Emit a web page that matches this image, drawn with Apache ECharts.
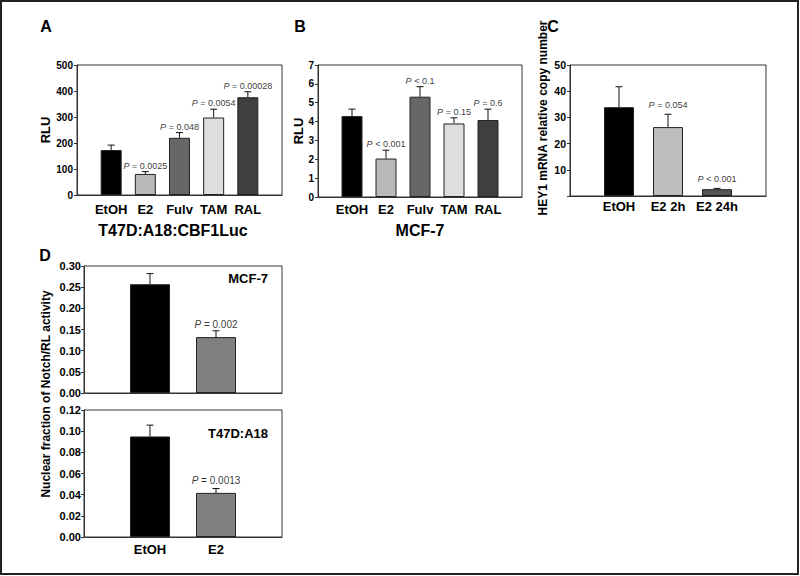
<!DOCTYPE html>
<html><head><meta charset="utf-8">
<script src="https://cdn.jsdelivr.net/npm/echarts@6/dist/echarts.min.js"></script>
<style>html,body{margin:0;padding:0;background:#fff}#c{width:800px;height:576px}</style>
</head><body><div id="c"></div>
<script>
// ---- Data ----
const aCategories = ['EtOH', 'E2', 'Fulv', 'TAM', 'RAL'];
const aValues = [173, 81, 220, 298, 376];
const aErrors = [19, 9, 20, 32, 21];
const aPLabels = ['', 'P = 0.0025', 'P = 0.048', 'P = 0.0054', 'P = 0.00028'];
const aTicks = [0, 100, 200, 300, 400, 500];

const bCategories = ['EtOH', 'E2', 'Fulv', 'TAM', 'RAL'];
const bValues = [4.29, 2.04, 5.32, 3.90, 4.08];
const bErrors = [0.37, 0.44, 0.53, 0.30, 0.58];
const bPLabels = ['', 'P < 0.001', 'P < 0.1', 'P = 0.15', 'P = 0.6'];
const bTicks = [0, 1, 2, 3, 4, 5, 6, 7];

const cCategories = ['EtOH', 'E2 2h', 'E2 24h'];
const cValues = [33.9, 26.3, 2.6];
const cErrors = [7.8, 4.9, 0.3];
const cPLabels = ['', 'P = 0.054', 'P < 0.001'];
const cTicks = [10, 20, 30, 40, 50];

const dCategories = ['EtOH', 'E2'];
const dMcfValues = [0.257, 0.132];
const dMcfErrors = [0.025, 0.015];
const dMcfPLabels = ['', 'P = 0.002'];
const dMcfTicks = [0, 0.05, 0.10, 0.15, 0.20, 0.25, 0.30];
const dT47Values = [0.095, 0.0417];
const dT47Errors = [0.0107, 0.0041];
const dT47PLabels = ['', 'P = 0.0013'];
const dT47Ticks = [0, 0.02, 0.04, 0.06, 0.08, 0.10, 0.12];

// ---- Styles ----
const FONT = '"Liberation Sans", Arial, Helvetica, sans-serif';
const drugColors = ['#000000', '#b9b9b9', '#676767', '#dedede', '#3f3f3f'];
const cColors = ['#000000', '#bdbdbd', '#555555'];
const dColors = ['#000000', '#808080'];
const AX = '#333';

const chart = echarts.init(document.getElementById('c'), null, {renderer: 'svg'});

function padCats(cats) { return [''].concat(cats, [' ']); }

function errRender(params, api) {
  const x = api.value(0), y = api.value(1), e = api.value(2);
  const p0 = api.coord([x, y]);
  const p1 = api.coord([x, y + e]);
  const hw = 3.5;
  return {type: 'group', children: [
    {type: 'line', shape: {x1: p0[0], y1: p0[1], x2: p1[0], y2: p1[1]}, style: {stroke: '#111', lineWidth: 1}},
    {type: 'line', shape: {x1: p1[0] - hw, y1: p1[1], x2: p1[0] + hw, y2: p1[1]}, style: {stroke: '#111', lineWidth: 1}}
  ]};
}

const grids = [], xAxes = [], yAxes = [], series = [];

function addPanel(o) {
  const gi = grids.length;
  grids.push(Object.assign({show: true, borderColor: AX, borderWidth: 1, backgroundColor: 'transparent', containLabel: false}, o.grid));
  xAxes.push({
    type: 'category', gridIndex: gi, data: padCats(o.cats), boundaryGap: false,
    axisLine: {lineStyle: {color: AX}}, axisTick: {show: false},
    axisLabel: {show: o.showX !== false, interval: 0, margin: o.xMargin, fontFamily: FONT, fontWeight: 'bold', fontSize: 13, color: '#000'},
    splitLine: {show: false}
  });
  const ticks = o.ticks;
  yAxes.push({
    type: 'value', gridIndex: gi, min: o.min, max: o.max, interval: o.interval,
    name: o.yName || '', nameLocation: 'middle', nameGap: o.nameGap || 20,
    nameTextStyle: {fontFamily: FONT, fontWeight: 'bold', fontSize: 13, color: '#000'},
    axisLine: {show: true, lineStyle: {color: AX}},
    axisTick: {show: true, length: 3, lineStyle: {color: AX}},
    axisLabel: {margin: o.yMargin, fontFamily: FONT, fontWeight: 'bold', fontSize: o.yFont, color: '#000',
      formatter: function (v) {
        const hit = ticks.find(t => Math.abs(t - v) < 1e-9);
        return hit === undefined ? '' : (o.decimals ? hit.toFixed(o.decimals) : String(hit));
      }},
    splitLine: {show: false}
  });
  series.push({
    type: 'bar', xAxisIndex: gi, yAxisIndex: gi, barWidth: o.barWidth,
    data: o.values.map((v, i) => ({value: [i + 1, v], itemStyle: {color: o.colors[i], borderColor: '#222', borderWidth: 1}})),
    z: 2
  });
  series.push({
    type: 'custom', xAxisIndex: gi, yAxisIndex: gi, renderItem: errRender,
    data: o.values.map((v, i) => [i + 1, v, o.errors[i]]), z: 3
  });
  series.push({
    type: 'scatter', xAxisIndex: gi, yAxisIndex: gi, symbol: 'circle', symbolSize: 1,
    itemStyle: {color: 'rgba(255,255,255,0)'},
    data: o.values.map((v, i) => [i + 1, v + o.errors[i], o.pLabels[i]]).filter(d => d[2]),
    label: {show: true, position: 'top', distance: o.pDist || 1, color: '#000',
      formatter: p => '{i|P}{n|' + p.data[2].slice(1) + '}',
      rich: {i: {fontStyle: 'italic', fontSize: o.pFont, fontFamily: FONT, color: '#000'},
             n: {fontSize: o.pFont, fontFamily: FONT, color: '#000'}}},
    labelLayout: {hideOverlap: false},
    z: 4, silent: true
  });
}

addPanel({grid: {left: 77, top: 65, width: 205, height: 130}, cats: aCategories, values: aValues, errors: aErrors,
  pLabels: aPLabels, ticks: aTicks, min: 0, max: 500, interval: 100, colors: drugColors, barWidth: 21,
  yName: 'RLU', nameGap: 24, xMargin: 8, yMargin: 4, yFont: 10, pFont: 9});
addPanel({grid: {left: 318, top: 65, width: 204, height: 132}, cats: bCategories, values: bValues, errors: bErrors,
  pLabels: bPLabels, ticks: bTicks, min: 0, max: 7, interval: 1, colors: drugColors, barWidth: 21,
  yName: 'RLU', nameGap: 9, xMargin: 6, yMargin: 4, yFont: 10, pFont: 9});
addPanel({grid: {left: 570, top: 65, width: 196, height: 131}, cats: cCategories, values: cValues, errors: cErrors,
  pLabels: cPLabels, ticks: cTicks, min: 0, max: 50, interval: 10, colors: cColors, barWidth: 30,
  xMargin: 4, yMargin: 4, yFont: 10.5, pFont: 9, pDist: 4});
addPanel({grid: {left: 84, top: 266, width: 198, height: 127}, cats: dCategories, values: dMcfValues, errors: dMcfErrors,
  pLabels: dMcfPLabels, ticks: dMcfTicks, min: 0, max: 0.30, interval: 0.05, decimals: 2, colors: dColors, barWidth: 40,
  showX: false, xMargin: 6, yMargin: 3, yFont: 11, pFont: 10});
addPanel({grid: {left: 84, top: 410, width: 198, height: 127}, cats: dCategories, values: dT47Values, errors: dT47Errors,
  pLabels: dT47PLabels, ticks: dT47Ticks, min: 0, max: 0.12, interval: 0.02, decimals: 2, colors: dColors, barWidth: 40,
  xMargin: 6, yMargin: 3, yFont: 11, pFont: 10, pDist: 3});

function txt(text, x, y, size, opts) {
  return Object.assign({type: 'text', x: x, y: y, silent: true,
    style: {text: text, fill: '#000', font: 'bold ' + size + 'px ' + FONT, textAlign: 'center', textVerticalAlign: 'middle'}}, opts || {});
}

const graphics = [
  {type: 'rect', shape: {x: 1, y: 1, width: 797, height: 573}, style: {fill: 'none', stroke: '#222', lineWidth: 2}, silent: true, z: 100},
  txt('A', 46, 26, 16), txt('B', 300, 26, 16), txt('C', 553, 26, 16), txt('D', 45, 255, 16),
  txt('T47D:A18:CBF1Luc', 173, 230, 16), txt('MCF-7', 420, 230, 16),
  txt('HEY1 mRNA relative copy number', 543, 118, 12, {rotation: Math.PI / 2}),
  txt('Nuclear fraction of Notch/RL activity', 46, 394, 12, {rotation: Math.PI / 2}),
  {type: 'text', x: 268, y: 278, silent: true, style: {text: 'MCF-7', fill: '#000', font: 'bold 13px ' + FONT, textAlign: 'right', textVerticalAlign: 'middle'}},
  {type: 'text', x: 268, y: 433, silent: true, style: {text: 'T47D:A18', fill: '#000', font: 'bold 13px ' + FONT, textAlign: 'right', textVerticalAlign: 'middle'}}
];

chart.setOption({
  animation: false,
  backgroundColor: '#fff',
  grid: grids, xAxis: xAxes, yAxis: yAxes, series: series,
  graphic: graphics
});
</script></body></html>
